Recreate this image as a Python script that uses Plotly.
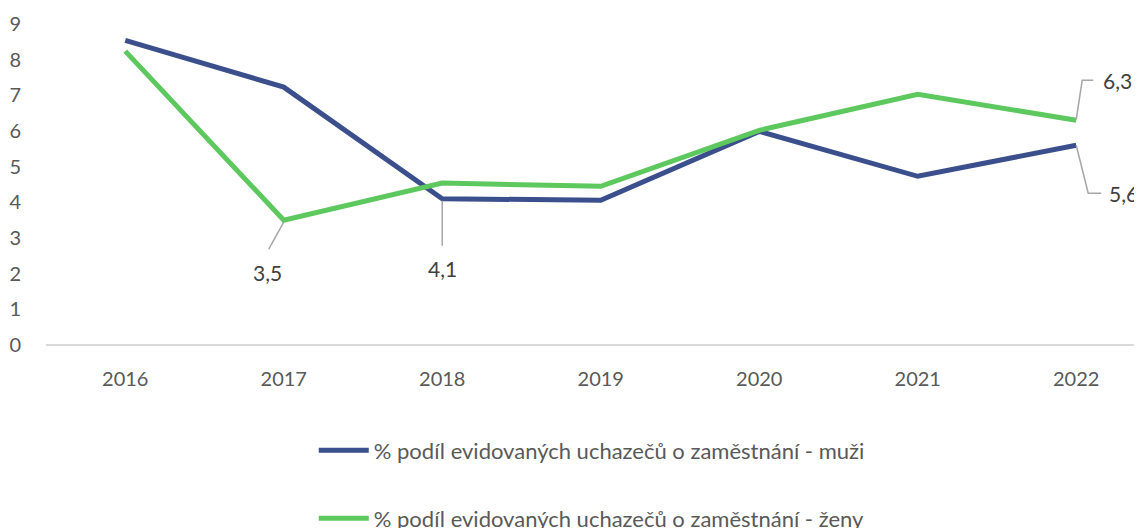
import plotly.graph_objects as go

years = ["2016", "2017", "2018", "2019", "2020", "2021", "2022"]
muzi = [8.54, 7.23, 4.1, 4.06, 5.99, 4.73, 5.6]
zeny = [8.24, 3.5, 4.54, 4.45, 6.02, 7.03, 6.3]
name_m = "% podíl evidovaných uchazečů o zaměstnání - muži"
name_z = "% podíl evidovaných uchazečů o zaměstnání - ženy"
y_ticks = list(range(0, 10))

BLUE = "#3A4F8C"
GREEN = "#5CC85E"
TXT = "#595959"
LBL = "#404040"
FONT = "Lato"

xi = list(range(len(years)))

fig = go.Figure()
fig.add_trace(go.Scatter(x=xi, y=muzi, mode="lines", name=name_m,
                         line=dict(color=BLUE, width=5), legend="legend"))
fig.add_trace(go.Scatter(x=xi, y=zeny, mode="lines", name=name_z,
                         line=dict(color=GREEN, width=5), legend="legend2"))

# data labels: (series, index, text shift x, text shift y, leader path in px offsets)
labels = [
    (zeny, 1, -16, -52, "M0,-2 L-15,-29"),
    (muzi, 2, 0, -70, "M0,-2 L0,-47"),
    (zeny, 6, 41, 40, "M0,1 L6,40 L17,40"),
    (muzi, 6, 47, -48, "M0,0 L12,-48 L25,-48"),
]
for series, i, dx, dy, path in labels:
    val = series[i]
    fig.add_annotation(x=xi[i], y=val, text=f"{val:.1f}".replace(".", ","),
                       showarrow=False, xshift=dx, yshift=dy,
                       font=dict(family=FONT, size=21, color=LBL))
    fig.add_shape(type="path", xref="x", yref="y", xsizemode="pixel", ysizemode="pixel",
                  xanchor=xi[i], yanchor=val, path=path,
                  line=dict(color="#A6A6A6", width=1.5))

fig.update_layout(
    width=1142, height=528,
    margin=dict(l=38, r=8, t=16, b=191, autoexpand=False),
    paper_bgcolor="white", plot_bgcolor="white",
    font=dict(family=FONT, size=20, color=TXT),
    showlegend=True,
    legend=dict(x=0.2443, y=-0.263, xanchor="left", yanchor="top", font=dict(size=22, color=TXT),
                itemwidth=50, bgcolor="rgba(0,0,0,0)"),
    legend2=dict(x=0.2443, y=-0.475, xanchor="left", yanchor="top", font=dict(size=22, color=TXT),
                 itemwidth=50, bgcolor="rgba(0,0,0,0)"),
    xaxis=dict(range=[-0.5, 6.415], tickmode="array", tickvals=xi, ticktext=years,
               showgrid=False, zeroline=False, showline=False, ticks="", automargin=False,
               ticklabelstandoff=20, tickfont=dict(size=20, color=TXT)),
    yaxis=dict(range=[0, 9], tickmode="array", tickvals=y_ticks, automargin=False,
               showgrid=False, zeroline=True, zerolinecolor="#D9D9D9", zerolinewidth=2,
               showline=False, ticks="", ticklabelstandoff=24,
               tickfont=dict(size=20, color=TXT)),
)

fig.write_html("out.html")
